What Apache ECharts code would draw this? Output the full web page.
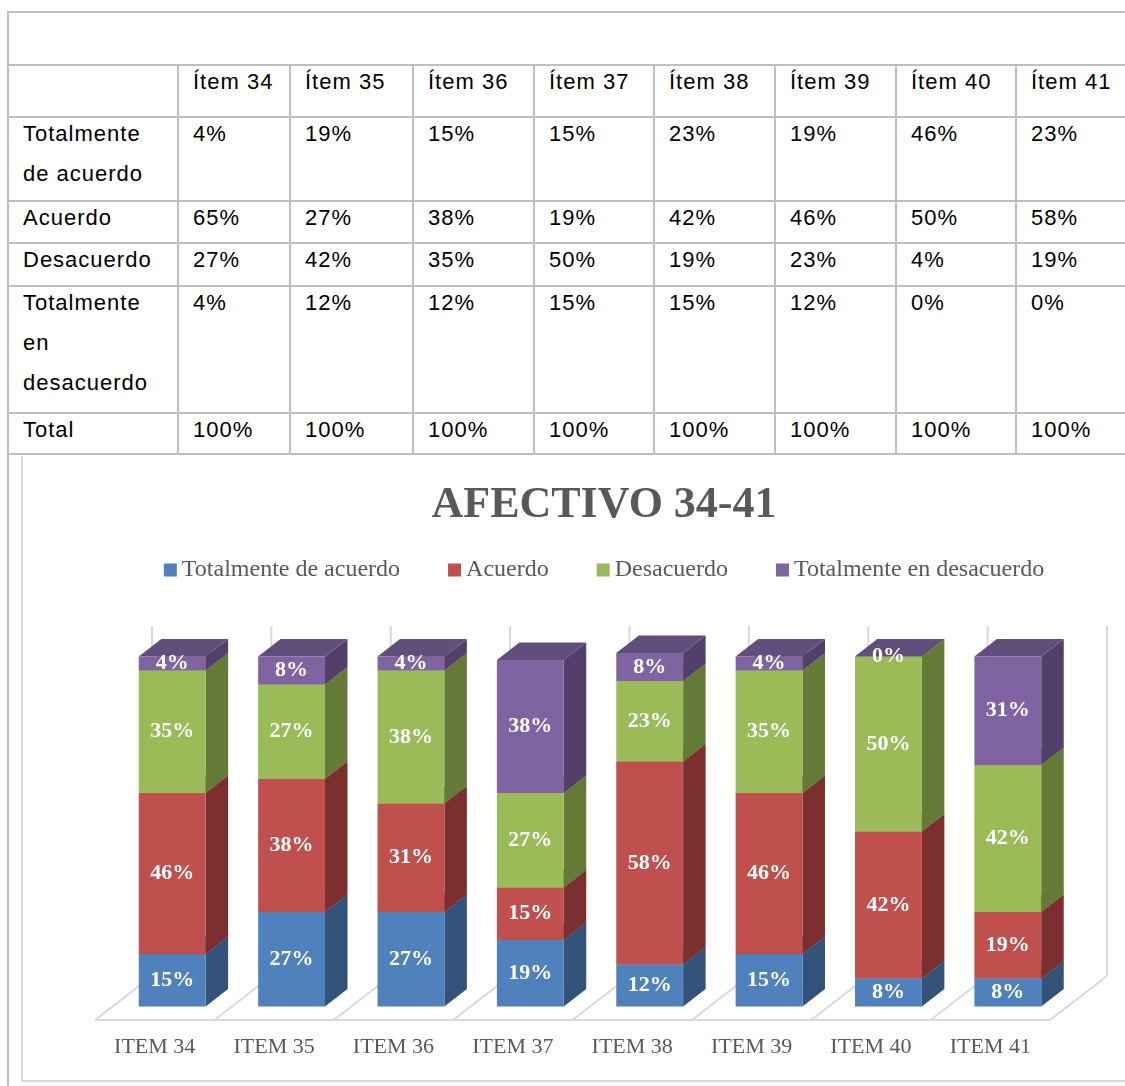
<!DOCTYPE html>
<html lang="es">
<head>
<meta charset="utf-8">
<title>Afectivo 34-41</title>
<script src="https://cdn.jsdelivr.net/npm/echarts@6/dist/echarts.min.js"></script>
<style>
    html, body { margin: 0; padding: 0; background: #fff; }
    body { width: 1125px; height: 1086px; position: relative; overflow: hidden; }
    table.datos {
        position: absolute; left: 7px; top: 11px;
        border-collapse: collapse; table-layout: fixed;
        font-family: "Liberation Sans", Arial, sans-serif; font-size: 22px;
        letter-spacing: 1px; color: #000;
    }
    table.datos td {
        border: 2px solid #bfbfbf; padding: 0 14px 0 14px;
        vertical-align: top; overflow: hidden;
    }
    table.datos td div { line-height: 40px; margin-top: -4px; }
    #borde-izq { position: absolute; left: 7px; top: 454px; width: 2px; height: 640px; background: #bfbfbf; }
    #marco {
        position: absolute; left: 21px; top: 456px; width: 1200px; height: 624px;
        border-left: 2px solid #d9d9d9; border-bottom: 2px solid #d9d9d9;
    }
    #chart { position: absolute; left: 22px; top: 456px; width: 1164px; height: 625px; }
</style>
</head>
<body>
<table class="datos" id="tabla"></table>
<div id="borde-izq"></div>
<div id="marco"></div>
<div id="chart"></div>

<script>
// ---- tabla de frecuencias ----
const encabezados = ["Ítem 34", "Ítem 35", "Ítem 36", "Ítem 37", "Ítem 38", "Ítem 39", "Ítem 40", "Ítem 41"];
const etiquetasFilas = ["Totalmente de acuerdo", "Acuerdo", "Desacuerdo", "Totalmente en desacuerdo", "Total"];
const tablaTotalmenteAcuerdo = [4, 19, 15, 15, 23, 19, 46, 23];
const tablaAcuerdo = [65, 27, 38, 19, 42, 46, 50, 58];
const tablaDesacuerdo = [27, 42, 35, 50, 19, 23, 4, 19];
const tablaTotalmenteDesacuerdo = [4, 12, 12, 15, 15, 12, 0, 0];
const tablaTotal = [100, 100, 100, 100, 100, 100, 100, 100];

// ---- gráfico ----
const titulo = "AFECTIVO 34-41";
const categorias = ["ITEM 34", "ITEM 35", "ITEM 36", "ITEM 37", "ITEM 38", "ITEM 39", "ITEM 40", "ITEM 41"];
const totalmenteAcuerdo = [15, 27, 27, 19, 12, 15, 8, 8];
const acuerdo = [46, 38, 31, 15, 58, 46, 42, 19];
const desacuerdo = [35, 27, 38, 27, 23, 35, 50, 42];
const totalmenteDesacuerdo = [4, 8, 4, 38, 8, 4, 0, 31];

// medidas de la tabla (px)
const anchosColumnas = [170, 112, 123, 121, 120, 121, 121, 120, 121];
const altosFilas = [53, 52, 84, 42, 43, 127, 41];

const buildTable = () => {
    const tabla = document.getElementById("tabla");
    tabla.style.width = anchosColumnas.reduce((a, b) => a + b, 0) + "px";
    let html = "<colgroup>" + anchosColumnas.map(w => `<col style="width:${w}px">`).join("") + "</colgroup>";
    html += `<tr style="height:${altosFilas[0]}px"><td colspan="${anchosColumnas.length}"></td></tr>`;
    html += `<tr style="height:${altosFilas[1]}px"><td></td>` + encabezados.map(t => `<td><div>${t}</div></td>`).join("") + "</tr>";
    const filas = [tablaTotalmenteAcuerdo, tablaAcuerdo, tablaDesacuerdo, tablaTotalmenteDesacuerdo, tablaTotal];
    filas.forEach((fila, k) => {
        html += `<tr style="height:${altosFilas[k + 2]}px"><td><div>${etiquetasFilas[k]}</div></td>`
            + fila.map(v => `<td><div>${v}%</div></td>`).join("") + "</tr>";
    });
    tabla.innerHTML = html;
};
buildTable();

// perspectiva de las cajas 3D
const ANCHO_BARRA = 0.56;          // fraccion de la banda
const FRENTE = [17.5, -13.5];      // desplazamiento de la cara frontal
const FONDO = [22.5, -17.5];       // profundidad de la barra
const PISO = [57, -44];            // profundidad del piso
const MAX_Y = 100;

const paleta = [
    { frente: "#4f81bd", lado: "#33537a", techo: "#3f6797" },
    { frente: "#c0504d", lado: "#7b302f", techo: "#973e3c" },
    { frente: "#9bbb59", lado: "#647a37", techo: "#7b9545" },
    { frente: "#8064a2", lado: "#52406a", techo: "#624e7d" },
];

const nombres = ["Totalmente de acuerdo", "Acuerdo", "Desacuerdo", "Totalmente en desacuerdo"];
const valores = [totalmenteAcuerdo, acuerdo, desacuerdo, totalmenteDesacuerdo];

// bases apiladas
const acumulado = categorias.map(() => 0);
const pilas = valores.map(serie => serie.map((v, i) => {
    const base = acumulado[i];
    acumulado[i] += v;
    return [i, base, base + v, v];
}));

const renderCaja = (colores) => (params, api) => {
    const i = api.value(0);
    const w = api.size([1, 0])[0] * ANCHO_BARRA;
    const pb = api.coord([i, api.value(1)]);
    const pt = api.coord([i, api.value(2)]);
    const x0 = pb[0] - w / 2 + FRENTE[0];
    const yb = pb[1] + FRENTE[1];
    const yt = pt[1] + FRENTE[1];
    const [dx, dy] = FONDO;
    return {
        type: "group",
        children: [
            {
                type: "polygon",
                shape: { points: [[x0 + w, yb], [x0 + w + dx, yb + dy], [x0 + w + dx, yt + dy], [x0 + w, yt]] },
                style: { fill: colores.lado },
            },
            {
                type: "polygon",
                shape: { points: [[x0, yt], [x0 + w, yt], [x0 + w + dx, yt + dy], [x0 + dx, yt + dy]] },
                style: { fill: colores.techo },
            },
            {
                type: "rect",
                shape: { x: x0, y: yt, width: w, height: yb - yt },
                style: { fill: colores.frente },
            },
            {
                type: "text",
                z2: 100,
                style: {
                    text: api.value(3) + "%",
                    x: x0 + w / 2,
                    y: (yb + yt) / 2,
                    align: "center",
                    verticalAlign: "middle",
                    fill: "#ffffff",
                    fontSize: 22,
                    fontWeight: "bold",
                    fontFamily: "Liberation Serif",
                },
            },
        ],
    };
};

const renderPiso = (params, api) => {
    const i = api.value(0);
    const c = api.coord([i, 0]);
    const w = api.size([1, 0])[0];
    const izq = c[0] - w / 2;
    const der = c[0] + w / 2;
    const y0 = c[1];
    const yTecho = api.coord([i, MAX_Y])[1];
    const linea = (x1, y1, x2, y2) => ({
        type: "line",
        shape: { x1, y1, x2, y2 },
        style: { stroke: "#d9d9d9", lineWidth: 2 },
    });
    const hijos = [
        linea(izq, y0, der, y0),
        linea(izq, y0, izq + PISO[0], y0 + PISO[1]),
        linea(izq + PISO[0], y0 + PISO[1], izq + PISO[0], yTecho + PISO[1]),
    ];
    if (i === categorias.length - 1) {
        hijos.push(linea(der, y0, der + PISO[0], y0 + PISO[1]));
        hijos.push(linea(der + PISO[0], y0 + PISO[1], der + PISO[0], yTecho + PISO[1]));
    }
    return { type: "group", children: hijos };
};

const chart = echarts.init(document.getElementById("chart"));

const option = {
    animation: false,
    title: {
        text: titulo,
        left: "center",
        top: 28,
        padding: 0,
        textStyle: {
            color: "#595959",
            fontSize: 44,
            fontWeight: "bold",
            fontFamily: "Liberation Serif",
        },
    },
    legend: {
        data: nombres,
        left: "center",
        top: 102,
        padding: 0,
        icon: "rect",
        itemWidth: 13,
        itemHeight: 13,
        itemGap: 48,
        textStyle: {
            color: "#595959",
            fontSize: 24,
            fontFamily: "Liberation Serif",
        },
    },
    grid: {
        left: 73,
        right: 136,
        top: 214,
        bottom: 61,
        outerBoundsMode: "none",
    },
    xAxis: {
        type: "category",
        data: categorias,
        axisLine: { show: false },
        axisTick: { show: false },
        splitLine: { show: false },
        axisLabel: {
            color: "#595959",
            fontSize: 22,
            fontFamily: "Liberation Serif",
            margin: 27,
            verticalAlign: "middle",
        },
    },
    yAxis: {
        type: "value",
        min: 0,
        max: MAX_Y,
        show: false,
    },
    series: [
        {
            type: "custom",
            name: "piso",
            silent: true,
            z: 1,
            data: categorias.map((c, i) => [i, 0]),
            encode: { x: 0, y: 1 },
            renderItem: renderPiso,
        },
        ...nombres.map((nombre, k) => ({
            type: "custom",
            name: nombre,
            z: 2,
            itemStyle: { color: paleta[k].frente },
            data: pilas[k],
            encode: { x: 0, y: [1, 2] },
            renderItem: renderCaja(paleta[k]),
        })),
    ],
};

chart.setOption(option);
window.addEventListener("resize", () => chart.resize());
</script>
</body>
</html>
